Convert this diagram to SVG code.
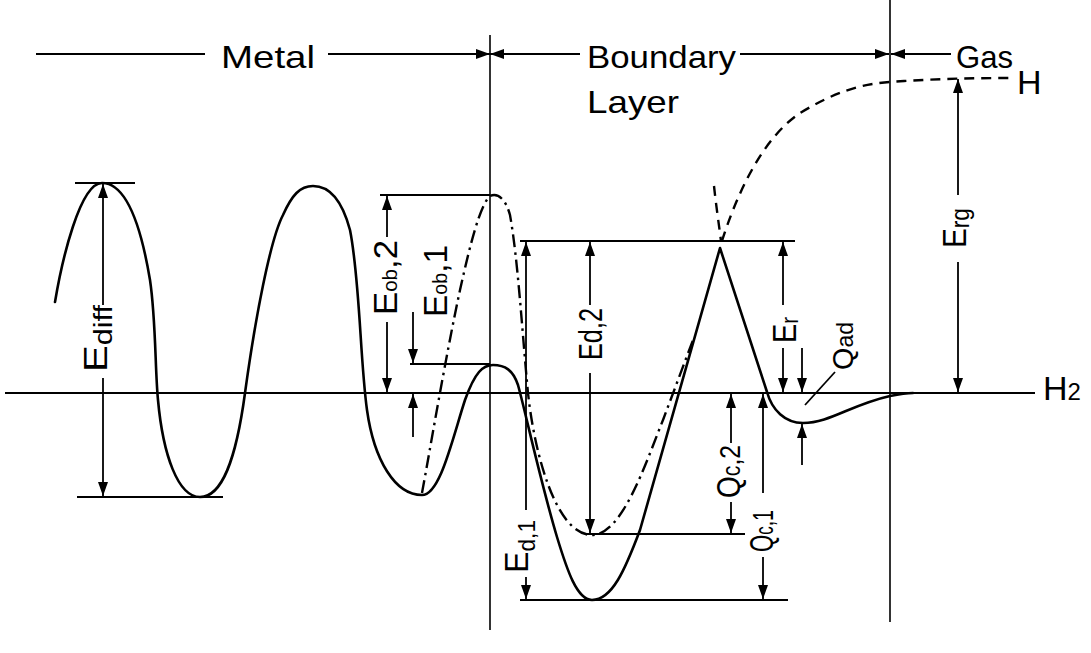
<svg xmlns="http://www.w3.org/2000/svg" width="1091" height="653" viewBox="0 0 1091 653">
<style>
.ln{stroke:#000;stroke-width:1.8;fill:none}
.vl{stroke:#000;stroke-width:1.6;fill:none}
.cv{stroke:#000;stroke-width:2.6;fill:none;stroke-linejoin:round;stroke-linecap:round}
.dd{stroke:#000;stroke-width:2.4;fill:none;stroke-dasharray:13 5 2.5 5}
.ds{stroke:#000;stroke-width:2.4;fill:none;stroke-dasharray:10 7}
.ar{stroke:#000;stroke-width:1.8;fill:none;marker-end:url(#ah)}
text{font-family:"Liberation Sans",Arial,sans-serif;fill:#000}
.hd{font-size:32px}
.lb{font-size:34px}
</style>
<defs>
<marker id="ah" markerUnits="userSpaceOnUse" markerWidth="16" markerHeight="12" refX="14" refY="5" orient="auto">
<path d="M0,0 L14,5 L0,10 z" fill="#000"/>
</marker>
</defs>
<rect width="1091" height="653" fill="#fff"/>

<g id="frame">
<line class="ln" x1="5" y1="393" x2="1035" y2="393"/>
<line class="vl" x1="490" y1="35" x2="490" y2="630"/>
<line class="vl" x1="890" y1="0" x2="890" y2="622"/>
</g>

<g id="header">
<line class="ln" x1="36" y1="54" x2="205" y2="54"/>
<path class="ar" d="M328,54 L490,54"/>
<path class="ar" d="M580,54 L490,54"/>
<path class="ar" d="M740,54 L889,54"/>
<path class="ar" d="M951,54 L891,54"/>
<text class="hd" x="221" y="68" textLength="94" lengthAdjust="spacingAndGlyphs">Metal</text>
<text class="hd" x="587" y="68" textLength="149" lengthAdjust="spacingAndGlyphs">Boundary</text>
<text class="hd" x="587" y="113" textLength="92" lengthAdjust="spacingAndGlyphs">Layer</text>
<text class="hd" x="956" y="68" textLength="57" lengthAdjust="spacingAndGlyphs">Gas</text>
</g>

<g id="curves">
<path class="cv" d="M55,302 C62,260 80,183 102,183 C125,183 140,220 150,280 C156,320 155,370 158,400 C163,455 178,497 200,497 C222,497 236,460 245,393 C255,320 270,240 283,215 C292,195 300,186 313,186 C330,186 342,200 350,230 C360,280 360,360 367,410 C374,460 395,495 422,495 C440,495 452,440 465,400 C475,372 483,365 493,365 C505,365 513,370 518,385 C525,410 540,480 557,537 C567,570 577,600 592,600 C612,600 625,570 640,530 L720,248 L767,392 C772,410 785,423 803,423 C830,423 850,405 890,396 C900,394 905,393 913,393"/>
<path class="dd" d="M422,493 C430,450 445,360 460,290 C470,245 480,205 490,196 C498,192 506,200 510,215 C518,260 522,330 528,393 C534,450 555,535 592,535 C622,535 645,465 663,420 L693,340"/>
<path class="ds" d="M722,241 C735,200 760,140 800,113 C835,92 860,84 890,82 C930,79 970,78 1011,78"/>
<path class="ds" d="M714,186 C716,205 719,225 721,241"/>
</g>

<g id="dimension-lines">
<line class="ln" x1="75" y1="183" x2="135" y2="183"/>
<line class="ln" x1="77" y1="497" x2="223" y2="497"/>
<line class="ln" x1="380" y1="195" x2="490" y2="195"/>
<line class="ln" x1="410" y1="364" x2="490" y2="364"/>
<line class="ln" x1="520" y1="241" x2="795" y2="241"/>
<line class="ln" x1="585" y1="534" x2="745" y2="534"/>
<line class="ln" x1="520" y1="600" x2="788" y2="600"/>
<line class="ln" x1="835" y1="372" x2="805" y2="405"/>
</g>

<g id="arrows">
<path class="ar" d="M103,305 L103,184"/>
<path class="ar" d="M103,378 L103,496"/>
<path class="ar" d="M387,237 L387,196"/>
<path class="ar" d="M387,322 L387,392"/>
<path class="ar" d="M413,312 L413,363"/>
<path class="ar" d="M413,437 L413,394"/>
<path class="ar" d="M526,510 L526,242"/>
<path class="ar" d="M526,577 L526,599"/>
<path class="ar" d="M590,305 L590,242"/>
<path class="ar" d="M590,373 L590,533"/>
<path class="ar" d="M731,443 L731,394"/>
<path class="ar" d="M731,502 L731,533"/>
<path class="ar" d="M763,493 L763,394"/>
<path class="ar" d="M763,557 L763,599"/>
<path class="ar" d="M783,305 L783,242"/>
<path class="ar" d="M783,348 L783,392"/>
<path class="ar" d="M802,348 L802,392"/>
<path class="ar" d="M802,465 L802,424"/>
<path class="ar" d="M958,195 L958,79"/>
<path class="ar" d="M958,262 L958,392"/>
</g>

<g id="labels">
<text class="lb" transform="translate(107,338.5) rotate(-90)" text-anchor="middle" textLength="67" lengthAdjust="spacingAndGlyphs">E<tspan font-size="26" dy="5">diff</tspan></text>
<text class="lb" transform="translate(397,277.5) rotate(-90)" text-anchor="middle" textLength="75" lengthAdjust="spacingAndGlyphs">E<tspan font-size="20">ob</tspan>,2</text>
<text class="lb" transform="translate(447,281) rotate(-90)" text-anchor="middle" textLength="72" lengthAdjust="spacingAndGlyphs">E<tspan font-size="20">ob</tspan>,1</text>
<text class="lb" transform="translate(602,334) rotate(-90)" text-anchor="middle" textLength="52" lengthAdjust="spacingAndGlyphs">Ed,2</text>
<text class="lb" transform="translate(528,546.5) rotate(-90)" text-anchor="middle" textLength="53" lengthAdjust="spacingAndGlyphs">E<tspan font-size="24" dy="7">d,1</tspan></text>
<text class="lb" transform="translate(740,471.5) rotate(-90)" text-anchor="middle" textLength="53" lengthAdjust="spacingAndGlyphs">Q<tspan font-size="26">c</tspan><tspan font-size="30">,2</tspan></text>
<text class="lb" transform="translate(773,531) rotate(-90)" text-anchor="middle" textLength="42" lengthAdjust="spacingAndGlyphs">Q<tspan font-size="26">c</tspan><tspan font-size="30">,1</tspan></text>
<text class="lb" transform="translate(796,330) rotate(-90)" text-anchor="middle" textLength="26" lengthAdjust="spacingAndGlyphs">E<tspan font-size="24" dy="2">r</tspan></text>
<text class="lb" font-size="30" transform="translate(853,346) rotate(-90)" text-anchor="middle" textLength="48" lengthAdjust="spacingAndGlyphs"><tspan font-size="30">Q</tspan><tspan font-size="24">ad</tspan></text>
<text class="lb" transform="translate(966,228) rotate(-90)" text-anchor="middle" textLength="40" lengthAdjust="spacingAndGlyphs">E<tspan font-size="26" dy="3">rg</tspan></text>
<text class="lb" font-size="33" x="1017" y="94">H</text>
<text class="lb" x="1043" y="400" font-size="33">H<tspan font-size="24">2</tspan></text>
</g>
</svg>
